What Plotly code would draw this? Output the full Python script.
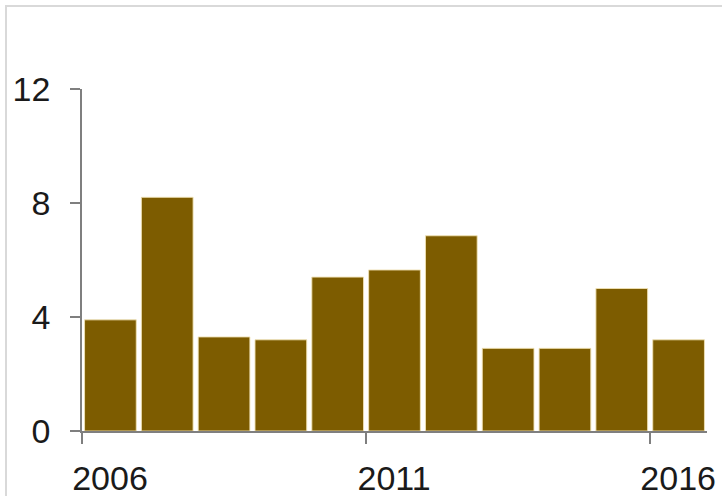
import plotly.graph_objects as go

years = [2006, 2007, 2008, 2009, 2010, 2011, 2012, 2013, 2014, 2015, 2016]
values = [3.9, 8.2, 3.3, 3.2, 5.4, 5.65, 6.85, 2.9, 2.9, 5.0, 3.2]
x_tick_vals = [2006, 2011, 2016]
x_tick_text = ["2006", "2011", "2016"]
y_tick_vals = [0, 4, 8, 12]

fig = go.Figure()
fig.add_trace(go.Bar(
    x=years, y=values,
    width=0.91, offset=0.045,
    marker=dict(color="#7d5c00", line=dict(color="rgba(240,225,180,0.9)", width=1)),
))

fig.update_layout(
    width=722, height=496,
    margin=dict(l=82, r=15, t=89, b=65),
    paper_bgcolor="white", plot_bgcolor="white",
    showlegend=False,
    font=dict(family="Liberation Sans, Arial, sans-serif", size=34, color="#1a1a1a"),
    xaxis=dict(
        range=[2006, 2017], tickmode="array", tickvals=x_tick_vals, ticktext=x_tick_text,
        ticks="outside", ticklen=11, tickcolor="#7f7f7f", tickwidth=1.5,
        showline=True, linecolor="#7f7f7f", linewidth=1.5, automargin=False,
        showgrid=False, zeroline=False, ticklabelshift=28, ticklabelstandoff=5,
    ),
    yaxis=dict(
        range=[0, 12], tickmode="array", tickvals=y_tick_vals,
        ticks="outside", ticklen=10, tickcolor="#7f7f7f", tickwidth=1.5,
        showline=True, linecolor="#7f7f7f", linewidth=1.5, automargin=False,
        showgrid=False, zeroline=False, ticklabelstandoff=13,
    ),
    shapes=[dict(
        type="rect", xref="paper", yref="paper",
        x0=-0.1216, x1=1.04, y0=-0.21, y1=1.2427,
        line=dict(color="#d9d9d9", width=2), layer="below",
    )],
)

fig.write_html(
    "out.html",
    config={"displayModeBar": False},
    post_script="document.body.style.margin='0';document.body.style.overflow='hidden';",
)
